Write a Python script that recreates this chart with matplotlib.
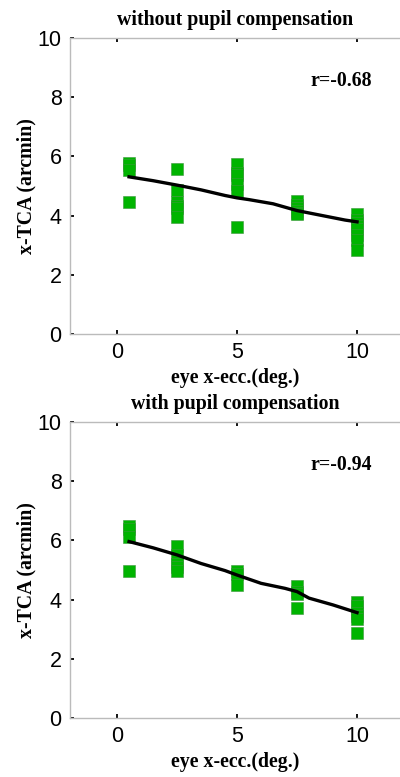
import matplotlib
matplotlib.use("Agg")
import matplotlib.pyplot as plt

# eccentricity positions (deg.)
x_pos = [0.5, 2.5, 5.0, 7.5, 10.0]

# without pupil compensation: x-TCA values per eccentricity
top_vals = [
    [5.79, 5.72, 5.55, 4.47],
    [5.58, 4.85, 4.45, 4.33, 4.26, 3.95],
    [5.73, 5.44, 5.38, 5.07, 4.83, 3.62],
    [4.49, 4.35, 4.25, 4.15, 4.08, 4.04],
    [4.04, 3.85, 3.75, 3.64, 3.55, 3.35, 3.16, 2.84],
]
top_fit_x = [0.5, 1.5, 2.5, 3.5, 4.5, 5.0, 5.5, 6.5, 7.5, 8.5, 9.5, 10.0]
top_fit_y = [5.31, 5.18, 5.03, 4.87, 4.68, 4.60, 4.54, 4.40, 4.17, 4.01, 3.85, 3.79]
top_r = "r=-0.68"

# with pupil compensation
bot_vals = [
    [6.50, 6.40, 6.13, 4.98],
    [5.80, 5.50, 5.20, 5.10, 4.98],
    [4.98, 4.85, 4.50],
    [4.45, 4.25, 4.20, 3.71],
    [3.91, 3.80, 3.55, 3.46, 3.35, 2.86],
]
bot_fit_x = [0.5, 1.5, 2.5, 3.5, 4.5, 5.0, 6.0, 7.0, 7.5, 8.0, 9.0, 10.0]
bot_fit_y = [5.96, 5.75, 5.51, 5.22, 4.98, 4.83, 4.55, 4.38, 4.27, 4.05, 3.82, 3.56]
bot_r = "r=-0.94"

serif = "Liberation Serif"
sans = "Liberation Sans"
fs = 14.3


def panel(ax, vals, fx, fy, rtxt, title):
    for xp, col in zip(x_pos, vals):
        ax.plot([xp] * len(col), col, linestyle="none", marker="s", ms=8.8,
                mfc="#00b400", mec="#3c963c", mew=0.4, zorder=2)
    ax.plot(fx, fy, color="black", lw=2.4, zorder=3)
    ax.set_xlim(-1.96, 11.79)
    ax.set_ylim(0, 10)
    ax.set_xticks([0, 5, 10])
    ax.set_yticks([0, 2, 4, 6, 8, 10])
    for s in ["left", "top", "bottom"]:
        ax.spines[s].set_color("#bbbbbb")
        ax.spines[s].set_linewidth(1)
    ax.spines["right"].set_visible(False)
    ax.tick_params(axis="both", direction="in", length=3, width=1.3,
                   color="black", labelsize=15.5, pad=6)
    ax.tick_params(axis="x", top=True)
    for lab in ax.get_xticklabels() + ax.get_yticklabels():
        lab.set_family(sans)
    ax.text(9.35, 8.55, rtxt, ha="center", va="center", family=serif,
            fontweight="bold", fontsize=fs)
    ax.set_title(title, family=serif, fontweight="bold", fontsize=fs, pad=9)
    ax.set_xlabel("eye x-ecc.(deg.)", family=serif, fontweight="bold",
                  fontsize=fs, labelpad=3)
    ax.set_ylabel("x-TCA (arcmin)", family=serif, fontweight="bold",
                  fontsize=fs, labelpad=1)


fig = plt.figure(figsize=(4.0, 7.77), dpi=100)
ax1 = fig.add_axes([0.175, 0.5701, 0.825, 0.381])
ax2 = fig.add_axes([0.175, 0.0759, 0.825, 0.381])
panel(ax1, top_vals, top_fit_x, top_fit_y, top_r, "without pupil compensation")
panel(ax2, bot_vals, bot_fit_x, bot_fit_y, bot_r, "with pupil compensation")

fig.savefig("out.png", dpi=100)
